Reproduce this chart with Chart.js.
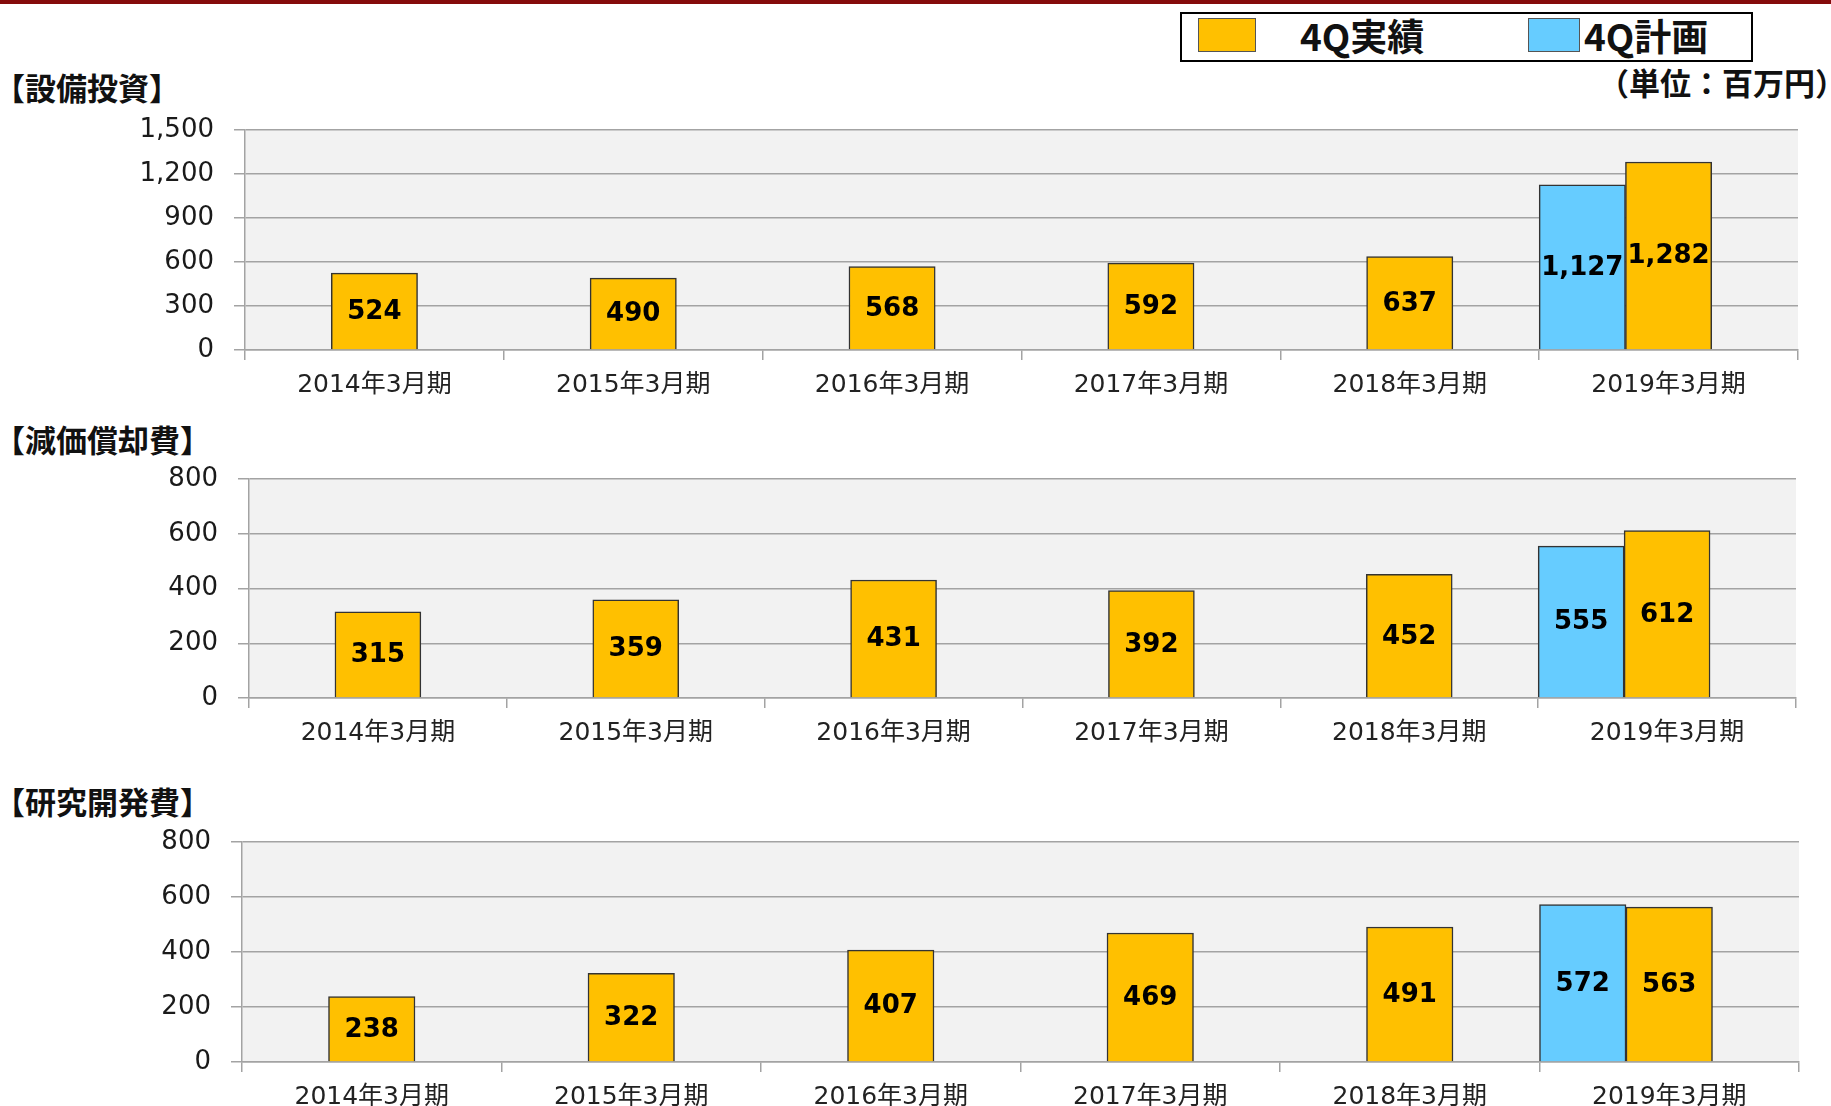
<!DOCTYPE html>
<html>
<head>
<meta charset="utf-8">
<script src="https://cdn.jsdelivr.net/npm/chart.js@4.4.0/dist/chart.umd.min.js"></script>
<style>
  html, body { margin: 0; padding: 0; background: #fff; overflow: hidden; }
  body { width: 1831px; height: 1106px; position: relative; font-family: "Noto Sans CJK JP", sans-serif; }
  .topline { position: absolute; left: 0; top: 0; width: 1831px; height: 4px; background: #850b0b; }
  .title { position: absolute; left: -6px; font-size: 31px; line-height: 31px; font-weight: bold; color: #111; }
  .unit { position: absolute; right: -15px; top: 66px; font-size: 31px; line-height: 31px; font-weight: bold; color: #111; }
  .legend { position: absolute; left: 1180px; top: 12px; width: 569px; height: 46px; border: 2px solid #000; }
  .sw { position: absolute; top: 4px; height: 32px; border: 1px solid #555; }
  .lg { position: absolute; top: 1px; font-size: 37px; line-height: 40px; font-weight: bold; color: #111; }
  canvas { position: absolute; left: 0; }
</style>
</head>
<body>
<div class="topline"></div>

<div class="legend">
  <div class="sw" style="left:16px;width:56px;background:#ffc000;"></div>
  <div class="lg" style="left:118px;">4Q実績</div>
  <div class="sw" style="left:346px;width:50px;background:#66ccff;"></div>
  <div class="lg" style="left:402px;">4Q計画</div>
</div>
<div class="unit">（単位：百万円）</div>

<div class="title" style="top:71px;">【設備投資】</div>
<div class="title" style="top:423px;">【減価償却費】</div>
<div class="title" style="top:785px;">【研究開発費】</div>

<canvas id="capex" width="1831" height="320"></canvas>
<canvas id="depr" width="1831" height="320"></canvas>
<canvas id="rnd" width="1831" height="320"></canvas>

<script>
// fiscal years
const categories = ['2014年3月期', '2015年3月期', '2016年3月期', '2017年3月期', '2018年3月期', '2019年3月期'];

// 設備投資
const capexActual = [524, 490, 568, 592, 637, 1282];
const capexPlan = [null, null, null, null, null, 1127];
const capexTicks = [0, 300, 600, 900, 1200, 1500];

// 減価償却費
const deprActual = [315, 359, 431, 392, 452, 612];
const deprPlan = [null, null, null, null, null, 555];
const deprTicks = [0, 200, 400, 600, 800];

// 研究開発費
const rndActual = [238, 322, 407, 469, 491, 563];
const rndPlan = [null, null, null, null, null, 572];
const rndTicks = [0, 200, 400, 600, 800];

const ORANGE = '#ffc000';
const BLUE = '#66ccff';
const GRID = '#a3a3a3';
const NUM_FONT = '"DejaVu Sans", "Noto Sans CJK JP", sans-serif';

// grey plot background
const plotBg = {
    id: 'plotBg',
    beforeDraw(chart) {
        const a = chart.chartArea;
        const ctx = chart.ctx;
        ctx.save();
        ctx.fillStyle = '#f2f2f2';
        ctx.fillRect(a.left, a.top, a.right - a.left, a.bottom - a.top);
        ctx.restore();
    }
};

// value labels in the middle of each bar
const barValues = {
    id: 'barValues',
    afterDatasetsDraw(chart) {
        const ctx = chart.ctx;
        ctx.save();
        ctx.font = 'bold 26px ' + NUM_FONT;
        ctx.fillStyle = '#000';
        ctx.textAlign = 'center';
        ctx.textBaseline = 'middle';
        chart.data.datasets.forEach((ds, i) => {
            const meta = chart.getDatasetMeta(i);
            meta.data.forEach((bar, j) => {
                const v = ds.data[j];
                if (v === null || v === undefined) return;
                ctx.fillText(v.toLocaleString('en-US'), bar.x, (bar.y + bar.base) / 2 + 1);
            });
        });
        ctx.restore();
    }
};

// canvasTop, plot box (page pixels)
function makeChart(id, canvasTop, plotTop, plotBottom, plotLeft, plotRight, actual, plan, ticks) {
    const canvas = document.getElementById(id);
    canvas.style.top = canvasTop + 'px';
    const padTop = plotTop - canvasTop;
    const xAxisH = canvas.height - padTop - (plotBottom - plotTop);
    const step = ticks[1] - ticks[0];

    new Chart(canvas, {
        type: 'bar',
        data: {
            labels: categories,
            datasets: [
                { label: '4Q計画', data: plan, backgroundColor: BLUE },
                { label: '4Q実績', data: actual, backgroundColor: ORANGE },
                // empty third slot so 実績 sits in the middle of each year
                { label: '', data: categories.map(() => null), backgroundColor: 'rgba(0,0,0,0)' }
            ]
        },
        options: {
            responsive: false,
            animation: false,
            devicePixelRatio: 1,
            layout: { padding: { top: padTop, right: canvas.width - plotRight, left: 0, bottom: 0 } },
            datasets: {
                bar: {
                    categoryPercentage: 1,
                    barPercentage: 1,
                    borderColor: '#333',
                    borderWidth: 1.5
                }
            },
            plugins: {
                legend: { display: false },
                tooltip: { enabled: false }
            },
            scales: {
                x: {
                    grid: { drawOnChartArea: false, color: GRID, lineWidth: 1.5, tickLength: 10 },
                    border: { color: GRID, width: 1.5 },
                    ticks: {
                        color: '#222',
                        font: { size: 25, family: NUM_FONT },
                        padding: 10,
                        maxRotation: 0,
                        autoSkip: false
                    },
                    afterFit(scale) { scale.height = xAxisH; }
                },
                y: {
                    min: ticks[0],
                    max: ticks[ticks.length - 1],
                    grid: { color: GRID, lineWidth: 1.5, tickLength: 11 },
                    border: { color: GRID, width: 1.5 },
                    ticks: {
                        stepSize: step,
                        color: '#1a1a1a',
                        font: { size: 26, family: NUM_FONT },
                        padding: 20,
                        callback: v => v.toLocaleString('en-US')
                    },
                    afterFit(scale) { scale.width = plotLeft; }
                }
            }
        },
        plugins: [plotBg, barValues]
    });
}

makeChart('capex', 88, 130, 350, 245, 1798, capexActual, capexPlan, capexTicks);
makeChart('depr', 436, 479, 698, 249, 1796, deprActual, deprPlan, deprTicks);
makeChart('rnd', 790, 842, 1062, 242, 1799, rndActual, rndPlan, rndTicks);
</script>
</body>
</html>
